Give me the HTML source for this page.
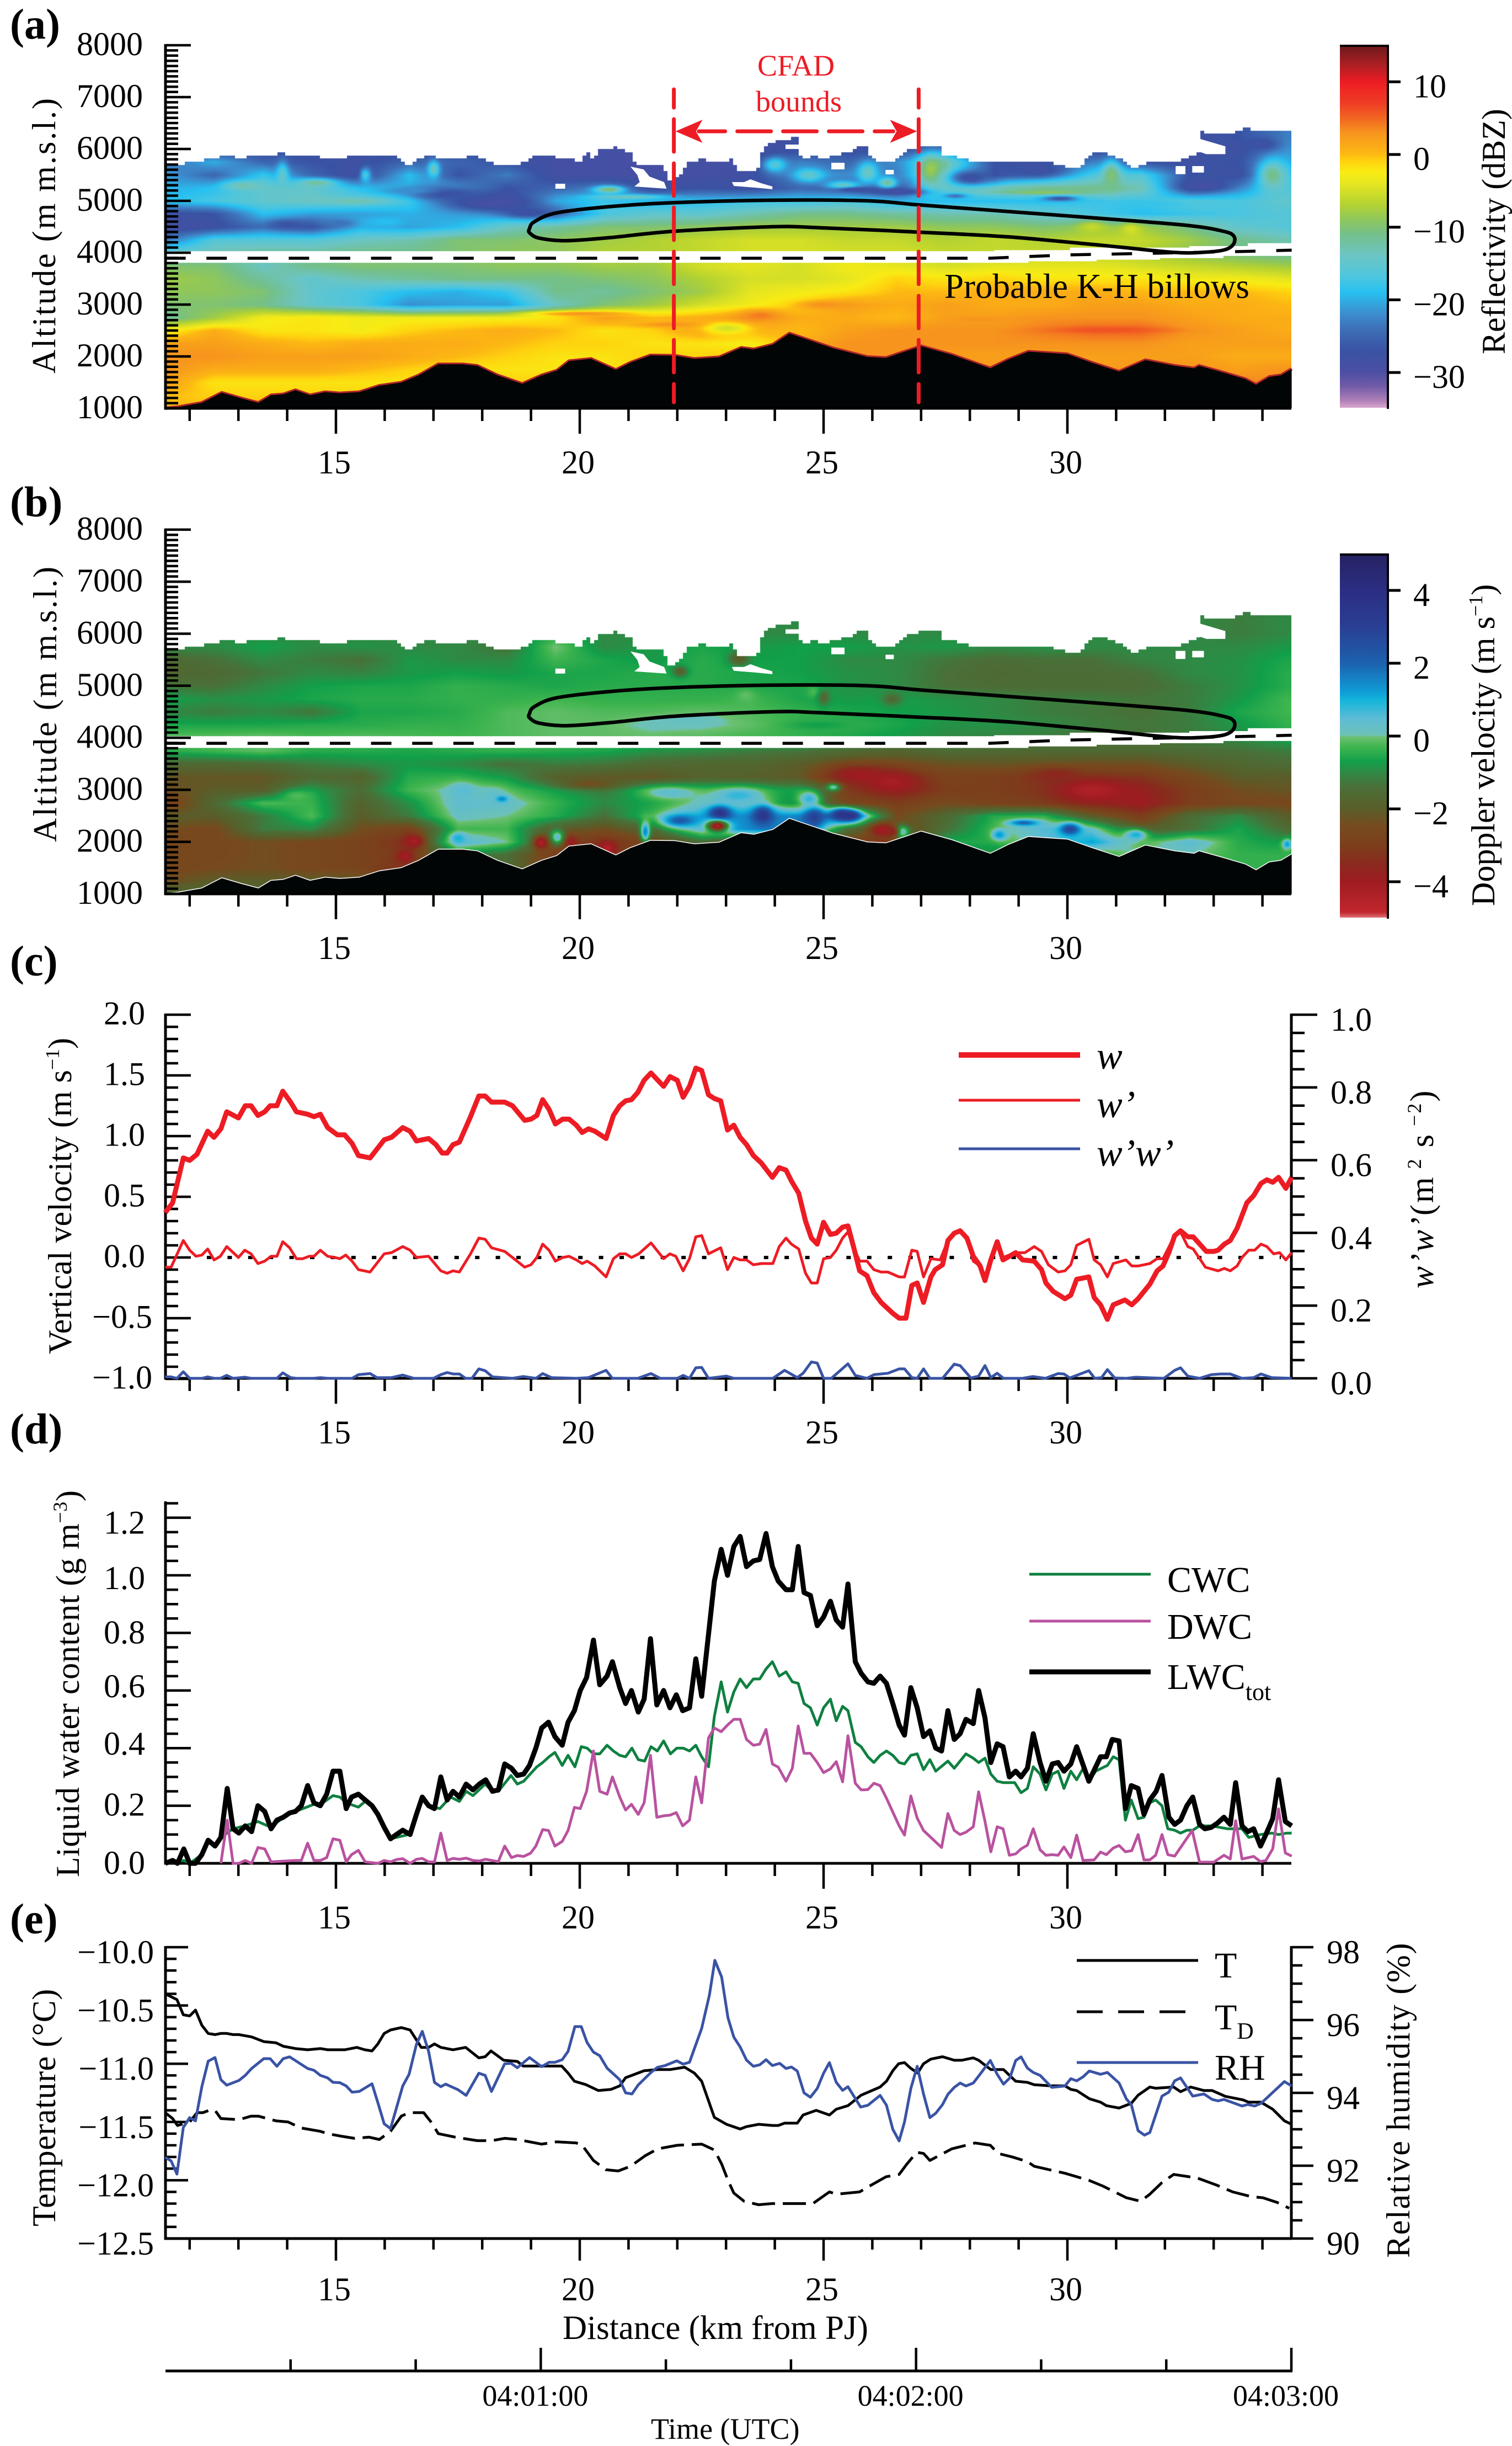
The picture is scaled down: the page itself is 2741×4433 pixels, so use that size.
<!DOCTYPE html>
<html lang="en">
<head>
<meta charset="utf-8">
<title>Airborne radar and in situ cross-section</title>
<style>
html,body{margin:0;padding:0;background:#fff;width:2741px;height:4433px;overflow:hidden}
canvas,svg{position:absolute;display:block}
text{font-family:"Liberation Serif",serif;font-size:60px;fill:#000}
.lg{font-size:66px}
.it{font-style:italic}
.pl{font-size:78px;font-weight:bold}
.red{fill:#ed1c24;font-size:54px}
</style>
</head>
<body>
<canvas id="heatA" width="2041" height="658" style="left:300px;top:82px"></canvas>
<canvas id="heatB" width="2041" height="660" style="left:300px;top:960px"></canvas>
<svg id="fig" width="2741" height="4433" viewBox="0 0 2741 4433" style="left:0;top:0">
<defs>
<linearGradient id="gradA" x1="0" y1="0" x2="0" y2="1"></linearGradient>
<linearGradient id="gradB" x1="0" y1="0" x2="0" y2="1"></linearGradient>
</defs>
<g id="underA"></g>
<g id="underB"></g>
<g id="axes"></g>
<g id="series"></g>

<text class="pl" x="18" y="70">(a)</text>
<text class="pl" x="18" y="936">(b)</text>
<text class="pl" x="18" y="1768">(c)</text>
<text class="pl" x="18" y="2616">(d)</text>
<text class="pl" x="18" y="3504">(e)</text>

<text transform="translate(100,677) rotate(-90)" letter-spacing="3">Altitude (m m.s.l.)</text>
<text transform="translate(102,1526) rotate(-90)" letter-spacing="3">Altitude (m m.s.l.)</text>
<text transform="translate(129,2454) rotate(-90)">Vertical velocity (m s<tspan dy="-22" font-size="36">−1</tspan><tspan dy="22">)</tspan></text>
<text transform="translate(143,3402) rotate(-90)" letter-spacing="0.6">Liquid water content (g m<tspan dy="-22" font-size="36">−3</tspan><tspan dy="22">)</tspan></text>
<text transform="translate(100,4035) rotate(-90)" letter-spacing="0.6">Temperature (°C)</text>
<text transform="translate(2728,642) rotate(-90)">Reflectivity (dBZ)</text>
<text transform="translate(2709,1642) rotate(-90)">Doppler velocity (m s<tspan dy="-22" font-size="36">−1</tspan><tspan dy="22">)</tspan></text>
<text transform="translate(2598,2335) rotate(-90)" letter-spacing="3"><tspan class="it">w’w’</tspan>(m<tspan dy="-22" font-size="36"> 2</tspan><tspan dy="22"> s</tspan><tspan dy="-22" font-size="36"> −2</tspan><tspan dy="22">)</tspan></text>
<text transform="translate(2555,4092) rotate(-90)" letter-spacing="1.7">Relative humidity (%)</text>

<text class="red" x="1443" y="137" text-anchor="middle">CFAD</text>
<text class="red" x="1448" y="202" text-anchor="middle">bounds</text>
<text x="1712" y="540" style="font-size:63px">Probable K-H billows</text>

<g>
<line x1="1738" y1="1912" x2="1958" y2="1912" stroke="#ed1c24" stroke-width="10"/>
<line x1="1738" y1="1994" x2="1958" y2="1994" stroke="#ed1c24" stroke-width="5"/>
<line x1="1738" y1="2082" x2="1958" y2="2082" stroke="#3953a4" stroke-width="5"/>
<text class="lg it" x="1988" y="1937" style="font-size:70px">w</text>
<text class="lg it" x="1988" y="2025" style="font-size:70px">w’</text>
<text class="lg it" x="1988" y="2113" style="font-size:70px">w’w’</text>
</g>
<g>
<line x1="1866" y1="2853" x2="2086" y2="2853" stroke="#0f8040" stroke-width="5"/>
<line x1="1866" y1="2938" x2="2086" y2="2938" stroke="#b9529f" stroke-width="5"/>
<line x1="1866" y1="3030" x2="2086" y2="3030" stroke="#000" stroke-width="9"/>
<text class="lg" x="2116" y="2885">CWC</text>
<text class="lg" x="2116" y="2970">DWC</text>
<text class="lg" x="2116" y="3061">LWC<tspan font-size="44" dy="20">tot</tspan></text>
</g>
<g>
<line x1="1952" y1="3553" x2="2172" y2="3553" stroke="#000" stroke-width="5"/>
<line x1="1952" y1="3646" x2="2172" y2="3646" stroke="#000" stroke-width="5" stroke-dasharray="47 28"/>
<line x1="1952" y1="3738" x2="2172" y2="3738" stroke="#3953a4" stroke-width="5"/>
<text class="lg" x="2202" y="3584">T</text>
<text class="lg" x="2202" y="3678">T<tspan font-size="42" dy="17">D</tspan></text>
<text class="lg" x="2202" y="3769">RH</text>
</g>
<text x="1020" y="4239" style="font-size:61px">Distance (km from PJ)</text>
<text x="1180" y="4420" style="font-size:54px">Time (UTC)</text>
</svg>

<script>
/* ---------- category / tick arrays ---------- */
const distanceMajorTicks=[15,20,25,30];
const distanceMinorTicks=[12,13,14,16,17,18,19,21,22,23,24,26,27,28,29,31,32,33,34];
const altitudeTicks=[8000,7000,6000,5000,4000,3000,2000,1000];
const reflectivityTicks=[10,0,-10,-20,-30];
const dopplerTicks=[4,2,0,-2,-4];
const velocityTicks=[2,1.5,1,0.5,0,-0.5,-1];
const varianceTicks=[1,0.8,0.6,0.4,0.2,0];
const lwcTicks=[1.2,1,0.8,0.6,0.4,0.2,0];
const temperatureTicks=[-10,-10.5,-11,-11.5,-12,-12.5];
const humidityTicks=[98,96,94,92,90];
const timeMajorSeconds=[60,120,180];
const timeMinorSeconds=[20,40,80,100,140,160];
const timeLabels=["04:01:00","04:02:00","04:03:00"];
const cfadBounds=[21.93,26.95];

/* ---------- colour scales [value, colour] ---------- */
const reflectivityStops=[[-35,"#d9a6cc"],[-34,"#b07fb8"],[-32,"#6f5aa6"],[-30,"#4a4fa3"],[-27,"#3a53a4"],[-24,"#3d71b8"],[-22,"#3c8ecf"],[-19,"#27c1f1"],[-17,"#4cc6e0"],[-14,"#6cc5c4"],[-11,"#74c08a"],[-9,"#8fc75c"],[-7,"#b3d233"],[-4,"#e6e621"],[-2.5,"#f9ec14"],[-1,"#ffd40f"],[0,"#fdb913"],[3,"#f7941e"],[5,"#f26522"],[7,"#ef3e24"],[10,"#ed1c24"],[12,"#b51f24"],[15,"#6d1a1c"]];
const dopplerStops=[[-5,"#e07078"],[-4.85,"#c1272d"],[-4,"#9e1c20"],[-3.5,"#8a2a1e"],[-3,"#7c3f1c"],[-2.5,"#774a1e"],[-2,"#5a5e2a"],[-1.4,"#4a7038"],[-1,"#2f8a45"],[-0.7,"#12a04a"],[-0.3,"#3fb54f"],[-0.03,"#6cc070"],[0.03,"#6dc2b8"],[0.5,"#5bbcd6"],[1,"#12b5da"],[1.2,"#0f9ed8"],[2,"#1c62ae"],[3,"#2a3f94"],[4,"#2b2e83"],[5,"#262262"]];

/* ---------- radar grid ---------- */
const gridKm=[11.5,12.5,13.5,14.5,15.5,16.5,17.5,18.5,19.5,20.5,21.5,22.5,23.5,24.5,25.5,26.5,27.5,28.5,29.5,30.5,31.5,32.5,33.5,34.5];
const gridAltitude=[6250,6000,5750,5500,5250,5000,4750,4500,4250,4000,3750,3500,3250,3000,2750,2500,2250,2000,1750,1500,1250,1000];
const reflectivityRows=[
[-28,-28,-28,-28,-28,-28,-28,-28,-28,-28,-28,-28,-28,-28,-28,-28,-28,-28,-28,-28,-28,-28,-27,-23],
[-28,-28,-28,-28,-28,-28,-28,-28,-28,-29,-29,-29,-29,-28,-28,-28,-24,-28,-28,-28,-28,-28,-28,-22],
[-24,-20,-25,-27,-28,-25,-25,-27,-29,-29,-30,-29,-29,-23,-25,-22,-13,-27,-28,-23,-27,-28,-27,-21],
[-21,-25,-18,-25,-29,-19,-27,-23,-29,-29,-29,-29,-28,-22,-22,-23,-12,-27,-24,-17,-16,-27,-28,-19],
[-20,-19,-15,-15,-19,-20,-21,-27,-25,-23,-28,-27,-28,-25,-27,-27,-14,-13,-11,-11,-13,-27,-22,-17],
[-19,-17,-15,-14,-15,-17,-25,-29,-20,-18,-20,-19,-18,-18,-17,-20,-19,-19,-19,-18,-18,-16,-17,-15],
[-28,-27,-19,-21,-21,-20,-21,-22,-25,-17,-15,-15,-13,-11,-11,-12,-13,-13,-15,-17,-19,-18,-17,-16],
[-29,-28,-24,-27,-20,-21,-19,-14,-12,-10,-10,-9,-8,-8,-8,-8,-9,-9,-10,-9,-8,-11,-15,-16],
[-24,-16,-16,-16,-14,-13,-10,-10,-9,-8,-7,-6,-5,-5,-6,-6,-7,-6,-7,-6,-6,-8,-11,-13],
[-15,-13,-12,-12,-11,-11,-10,-9,-9,-7,-7,-6,-5,-5,-5,-5,-6,-6,-6,-6,-7,-9,-11,-12],
[-10,-10,-14,-11,-10,-10,-10,-9,-9,-8,-8,-5,-4,-5,-3,-4,-5,-4,-4,-4,-5,-6,-7,-8],
[-8,-9,-12,-15,-13,-12,-11,-11,-11,-10,-9,-7,-5,-5,-4,-1,-2,-1,-2,-2,-2,-3,-3,-4],
[-9,-9,-10,-15,-17,-19,-20,-18,-11,-12,-10,-8,-4,-3,-2,0,0,1,1,1,0,0,0,-1],
[-10,-10,-11,-15,-17,-22,-21,-21,-14,-10,-8,-5,-3,-1,2,1,2,1,1,2,2,1,1,0],
[-12,-8,-3,-2,-3,-3,-3,-3,-2,2,0,1,3,1,1,0,2,2,3,3,3,2,1,1],
[-3,1,-2,-2,-3,-1,0,1,0,-2,-1,2,1,0,2,3,3,3,4,5,5,3,2,1],
[2,2,1,0,1,1,1,0,-1,-1,-2,-2,-3,1,3,3,3,3,3,3,3,2,2,2],
[3,3,2,2,2,1,0,-1,-2,-2,-1,-1,0,1,3,3,2,2,2,2,2,2,1,1],
[3,1,1,1,0,-1,-2,-2,-2,-2,-1,-1,-1,1,3,3,3,3,2,2,3,3,2,3],
[2,-2,-2,-2,-2,-2,-1,-1,-1,-1,-1,-1,-1,1,3,3,3,3,3,3,3,3,4,3],
[0,-1,-1,-1,-1,-1,-1,-1,-1,-1,-1,-1,-1,0,2,2,2,2,2,2,2,2,3,3],
[0,0,0,0,0,0,0,0,0,0,0,0,0,0,0,0,0,0,0,0,0,0,0,0]];
const dopplerRows=[
[-1,-1,-1,-1,-1,-1,-1,-1,-1,-1,-1,-1,-1,-1,-1,-1,-1,-1,-1,-1,-1,-1,-1.2,-1],
[-1,-1,-1,-1,-1,-1,-1,-1,-0.6,-1,-1,-1,-1,-1,-1,-1,-1,-1,-1,-1,-1,-1,-1.2,-1],
[-1,-1,-0.7,-1,-0.9,-1,-1,-1.4,0,-1,-0.8,-0.6,-0.8,-0.7,-0.7,-0.9,-0.8,-1,-0.9,-1,-1,-1,-1,-0.8],
[-1.6,-1.4,-1,-1.2,-1.4,-0.8,-1,-1,-0.3,-0.6,-0.8,-0.5,-0.7,-0.7,-1,-1,-1.3,-1.5,-1.4,-1.4,-1.1,-1,-0.9,-0.6],
[-1.7,-1.6,-1.3,-1,-1.1,-0.8,-0.7,-0.8,-0.6,-0.6,-0.5,-0.5,-0.6,-0.7,-0.9,-1,-1.4,-1.6,-1.5,-1.5,-1.4,-1,-0.9,-0.5],
[-1.3,-1.4,-1,-0.7,-0.6,-0.6,-0.4,-0.5,-0.6,-0.5,-0.5,-0.5,-0.6,-0.6,-0.9,-1,-1.4,-1.5,-1.5,-1.5,-1.5,-1.2,-0.9,-0.5],
[-0.7,-0.9,-0.8,-0.6,-0.5,-0.5,-0.4,-0.4,-0.3,-0.4,-0.4,-0.4,-0.3,-0.6,-0.8,-0.7,-0.9,-1,-1.2,-1.2,-1.3,-1.2,-0.8,-0.3],
[-1,-1.2,-1,-1.3,-0.6,-0.6,-0.5,-0.2,-0.1,-0.2,-0.2,-0.1,-0.2,-0.4,-0.6,-0.7,-0.8,-1,-1.2,-1.3,-1.4,-1.2,-0.6,-0.3],
[-0.6,-0.6,-0.6,-0.5,-0.5,-0.4,-0.4,-0.2,-0.1,-0.1,0.1,0.1,-0.1,-0.4,-0.4,-0.6,-0.9,-0.9,-1,-1.2,-1.3,-1.2,-0.8,-0.4],
[-0.1,-0.1,0,-0.2,-0.1,-0.2,-0.3,-0.2,-0.1,-0.1,-0.1,-0.2,-0.3,-0.4,-0.6,-0.8,-1,-1.1,-1.2,-1.4,-1.4,-1.2,-1,-0.6],
[-0.5,-0.3,-0.1,-0.5,-0.5,-0.6,-0.5,-0.4,-0.5,-0.6,-0.9,-1,-1.2,-1.3,-1.6,-1.8,-1.5,-1.6,-1.6,-1.6,-1.6,-1.5,-1.4,-1.2],
[-1.6,-1.6,-1.5,-1.2,-1,-0.8,-1,-1.4,-1.2,-1.3,-1.6,-1.7,-1.7,-2,-2.5,-2.5,-2.3,-2.2,-2.3,-2.4,-2.4,-2,-1.7,-1.5],
[-2.2,-2.2,-2.2,-1.6,-1.8,-0.5,-0.4,-0.8,-1.9,-2.1,-2.2,-1.8,-1.9,-2.1,-3.2,-3.2,-2.8,-3,-3.2,-3,-3.2,-2.6,-2,-2],
[-2.4,-2,-2,-0.8,-1.5,-0.3,0.2,-0.2,-0.7,-1.2,-0.4,-0.4,-0.5,-0.8,-3,-3.4,-3,-3,-3.2,-3.6,-3.8,-3,-2.4,-2.2],
[-3,-1.6,-0.2,-0.4,-1.8,-0.9,0.4,0.3,-0.4,-1,-0.6,0.2,0.1,-1.2,-2.6,-3,-2.5,-2.8,-3,-3.4,-4,-3,-2.6,-2.6],
[-2,-2,-1.2,-0.2,-2,-1.2,0.2,0,-0.5,-1.4,-0.3,1,1.5,1.5,2,-2.5,-1.6,-0.5,-0.4,-2,-3,-1.5,-1,-2],
[-2.4,-2.6,-1.2,-1,-2.4,-2.8,-0.3,-0.3,-2,-2.4,-1.6,0.6,1.5,1.8,-1.5,-2.8,-1.4,-0.3,0.6,0.3,-2,-1.4,-0.6,-1.5],
[-2.6,-2.6,-2.4,-2.6,-2.8,-3.4,0.6,0,-2.6,-3.4,-2.6,-1.5,-2.6,-2.4,-2.8,-3.3,-0.6,-0.5,0.4,1.2,-0.4,0.5,-0.5,-0.8],
[-2.6,-2.6,-2.4,-2.6,-2.8,-3.2,-1,-1.5,-3,-3.4,-2.4,-1,-1,-1,-1,-1,-1,-1,-1,-0.8,0.3,0,-0.4,-0.4],
[-2.6,-2.5,-2.4,-2.6,-2.8,-3.4,-1.5,-1.5,-3,-3,-2,-1,-1,-1,-1,-1,-1,-1,-1,-1,-0.8,-0.7,-0.4,-0.4],
[-2.4,-2,-2,-2,-2,-2,-1.5,-1.5,-2,-2,-2,-1,-1,-1,-1,-1,-1,-1,-1,-1,-1,-1,-0.5,-0.5],
[-1.5,-1.5,-1.5,-1.5,-1.5,-1.5,-1.5,-1.5,-1.5,-1.5,-1.5,-1,-1,-1,-1,-1,-1,-1,-1,-1,-1,-1,-0.5,-0.5]];
/* localized features: km, altitude, km half-width, altitude half-width, value */
const reflectivityFeatures=[[17.2,5150,0.7,130,-28],[18.2,4950,0.8,130,-29],[18.9,4780,0.5,100,-28],[13.9,5500,0.12,250,-15],[13.1,5300,0.4,90,-13],[14.6,5350,0.4,80,-12],[15.4,5000,0.6,60,-13],[16.5,5200,0.6,70,-22],[17,5620,0.12,160,-14],[15.6,5500,0.12,150,-17],[14,4550,0.4,90,-27],[15.1,4580,0.3,70,-24],[16,4600,0.4,100,-19],[20.6,5223,0.3,70,-10],[21,5080,0.8,50,-14],[24,5700,0.25,150,-16],[24.7,5500,0.3,130,-15],[25.4,5300,0.35,90,-14],[25.9,5550,0.2,200,-14],[26.3,5350,0.2,110,-12],[26.5,5180,0.6,60,-29],[25.6,5220,0.4,50,-28],[27.2,5600,0.25,300,-8],[27.7,5100,0.25,50,-24],[29.85,5050,0.35,50,-27],[28,5450,0.45,150,-28],[29.4,5600,0.5,120,-28],[30.9,5500,0.2,280,-10],[29.5,5170,1,40,-9],[32.8,5300,0.5,120,-29],[31.8,4950,0.7,50,-18],[34.2,5500,0.3,300,-11],[34,6100,0.3,120,-28],[30.5,4500,0.3,120,-6],[31.3,4450,0.2,130,-5],[23,2550,0.5,120,-5],[23.7,2800,0.4,100,4],[25,3000,0.5,80,3],[20,2830,1,50,3],[21.8,2620,0.6,50,3],[30.8,2520,1,60,6],[28.2,2720,0.5,50,3]];
const dopplerFeatures=[[22.87,2555,0.22,130,3.6],[23.75,2520,0.2,170,3.5],[24.8,2480,0.2,200,3],[25.35,2530,0.2,110,3.6],[25.55,2510,0.2,100,3.6],[22.05,2414,0.35,120,2.2],[22.82,2310,0.2,100,-4.5],[20.57,1883,0.15,120,-4.5],[19.8,2007,0.15,120,-4],[21.34,2200,0.1,200,1.5],[19.53,2095,0.15,150,0.5],[26.55,2200,0.2,130,1.6],[26.2,2236,0.25,130,-4.2],[21.85,2950,0.5,120,0.4],[23.25,2900,0.5,150,0.8],[24.7,2830,0.25,170,0.8],[25.2,3060,0.15,80,0.6],[25.7,3300,0.6,170,-4],[26.4,3150,0.6,220,-4.2],[30.5,3000,0.7,230,-4.4],[29.76,3300,0.5,130,-3.6],[22.16,4358,0.7,80,0.2],[24.9,4250,0.6,80,-0.7],[24.8,4888,0.15,120,-0.2],[23.4,4818,0.2,120,-0.1],[25,4780,0.12,150,-1.6],[26.4,4750,0.2,120,-1.6],[23.26,5525,0.2,130,-2],[22.05,5277,0.15,100,-1.9],[29.1,2370,0.3,60,2],[30.05,2250,0.2,110,2.8],[28.6,2140,0.15,100,1.3],[31.4,2140,0.25,120,1],[34.5,1960,0.1,100,1.2],[26.4,2200,0.15,120,-3.8],[14.2,2890,0.35,130,-0.2],[17.5,2080,0.15,90,1],[18.2,2890,0.3,170,0.3],[18.4,2830,0.12,60,1.5],[17.6,3000,0.25,130,0.5],[19.2,1990,0.15,130,-4.4],[16.4,1730,0.15,100,-4.2],[16.6,2020,0.2,130,-4.2],[20.2,3120,0.6,100,-2.4]];

/* ---------- cloud and terrain boundaries: [km, altitude] ---------- */
const cloudTop=[[11.5,5710],[11.77,5710],[12.15,5770],[12.7,5870],[13,5840],[13.57,5880],[13.87,5920],[14.17,5880],[14.98,5830],[15.5,5880],[16.2,5880],[16.4,5690],[16.7,5810],[16.8,5880],[17.4,5790],[17.8,5890],[18.2,5730],[18.7,5720],[19.1,5880],[19.42,5894],[19.53,5820],[20,5780],[20.1,5990],[20.25,5800],[20.4,6021],[20.7,6032],[21,5947],[21.05,5820],[21.15,5713],[21.62,5713],[21.72,5606],[21.75,5415],[21.93,5415],[22.1,5628],[22.2,5755],[22.5,5820],[22.6,5755],[22.74,5755],[23.1,5798],[23.2,5606],[23.5,5553],[23.62,5649],[23.65,5894],[23.83,6085],[24,6160],[24.45,6230],[24.5,5820],[24.8,5861],[25.05,5820],[25.2,5894],[25.45,5926],[25.65,6032],[25.9,6032],[25.92,5840],[26.1,5755],[26.4,5755],[26.7,5968],[27.1,6085],[27.35,6032],[27.4,5872],[27.7,5861],[28.1,5730],[29,5730],[29.66,5730],[30.2,5610],[30.5,5970],[30.9,5880],[31.35,5640],[31.7,5760],[32.3,5790],[32.68,5950],[32.7,6340],[33.3,6280],[33.6,6410],[34,6340],[34.6,6340]];
const terrainProfile=[[11.5,1000],[11.77,1026],[12.25,1105],[12.66,1301],[13.06,1191],[13.41,1105],[13.67,1252],[13.92,1270],[14.17,1350],[14.47,1252],[14.78,1313],[15.08,1289],[15.48,1313],[15.89,1435],[16.34,1496],[16.7,1637],[17.1,1850],[17.6,1850],[17.9,1820],[18.31,1637],[18.82,1472],[19.22,1637],[19.53,1728],[19.78,1911],[20.23,1954],[20.74,1740],[21.04,1881],[21.45,2021],[21.95,2015],[22.35,1954],[22.86,1985],[23.31,2168],[23.57,2137],[23.96,2230],[24.3,2443],[25.2,2156],[25.9,1990],[26.28,1972],[26.57,2064],[27,2198],[27.63,2033],[28,1911],[28.42,1771],[28.79,1942],[29.2,2094],[30,2045],[30.5,1881],[31.06,1710],[31.6,1930],[32.2,1820],[32.6,1771],[32.7,1820],[33.17,1698],[33.65,1564],[33.87,1454],[34.14,1606],[34.38,1637],[34.6,1759]];
const cloudHoles=[
[[19.5,5330],[19.7,5330],[19.7,5234],[19.5,5234]],
[[21.04,5660],[21.31,5606],[21.43,5468],[21.73,5362],[21.78,5234],[21.12,5277],[21.23,5362],[21.18,5500]],
[[23.12,5362],[23.37,5362],[23.5,5415],[23.72,5340],[23.95,5277],[23.95,5223],[23.59,5255],[23.16,5287]],
[[24.22,6085],[24.53,6085],[24.53,6000],[24.22,6000]],
[[25.16,5734],[25.43,5734],[25.43,5606],[25.16,5606]],
[[26.27,5596],[26.44,5596],[26.44,5511],[26.27,5511]],
[[32.22,5670],[32.42,5670],[32.42,5515],[32.22,5515]],
[[32.56,5670],[32.8,5670],[32.8,5545],[32.56,5545]],
[[32.7,6200],[33.24,6050],[33.24,5900],[32.85,5900],[32.7,5950]]];
const gapUpperKm=[11.5,28.5,30.05,32.5,33.7,34.6];
const gapUpperAltitude=[4030,4049,4098,4128,4183];
const gapLowerKm=[11.5,29.2,30.6,31.9,33.2,34.6];
const gapLowerAltitude=[3805,3835,3866,3896,3939];
const flightLevel=[[11.5,3894],[28.4,3894],[30,3957],[31.7,3988],[33.6,4024],[34.6,4049]];
const billowContour=[[18.97,4464],[19.07,4598],[19.53,4769],[20.64,4891],[21.95,4965],[23.96,5012],[25.89,5001],[26.95,4922],[28.79,4794],[30.73,4659],[32.47,4525],[33.19,4415],[33.41,4324],[33.41,4171],[33.24,4061],[32.85,4012],[32.18,4006],[30.73,4140],[28.79,4305],[26.95,4397],[24.92,4482],[23.96,4501],[21.95,4415],[20.64,4293],[19.73,4232],[19.17,4281],[18.97,4385]];

/* ---------- panel c: [km, value] ---------- */
const wSeries=[[11.5,.37],[11.65,.45],[11.87,.82],[12,.8],[12.15,.85],[12.37,1.04],[12.5,.99],[12.64,1.06],[12.76,1.2],[13,1.15],[13.14,1.25],[13.26,1.25],[13.4,1.17],[13.54,1.2],[13.65,1.25],[13.79,1.25],[13.91,1.37],[14.07,1.28],[14.19,1.2],[14.42,1.18],[14.55,1.16],[14.68,1.18],[14.83,1.07],[15.03,1.01],[15.18,1.01],[15.33,.94],[15.46,.84],[15.7,.82],[15.99,.97],[16.14,.99],[16.37,1.07],[16.52,1.04],[16.65,.96],[16.9,.98],[17.05,.93],[17.18,.86],[17.28,.86],[17.4,.93],[17.53,.95],[17.76,1.16],[17.93,1.33],[18.06,1.33],[18.19,1.28],[18.46,1.28],[18.62,1.25],[18.87,1.13],[19,1.14],[19.12,1.17],[19.24,1.3],[19.37,1.22],[19.5,1.1],[19.65,1.14],[19.78,1.14],[19.93,1.09],[20.05,1.03],[20.18,1.06],[20.31,1.04],[20.54,.98],[20.69,1.17],[20.82,1.25],[20.94,1.29],[21.06,1.3],[21.19,1.36],[21.32,1.46],[21.46,1.52],[21.72,1.41],[21.85,1.49],[22,1.46],[22.12,1.32],[22.25,1.41],[22.38,1.56],[22.5,1.54],[22.64,1.34],[22.76,1.31],[22.89,1.29],[23.03,1.05],[23.16,1.09],[23.29,.99],[23.42,.93],[23.56,.84],[23.72,.78],[23.95,.66],[24.09,.74],[24.23,.72],[24.34,.63],[24.49,.53],[24.63,.3],[24.75,.16],[24.87,.11],[25,.29],[25.14,.19],[25.26,.2],[25.39,.25],[25.5,.26],[25.62,.08],[25.74,-.11],[25.89,-.15],[26.03,-.29],[26.18,-.37],[26.42,-.46],[26.55,-.5],[26.69,-.5],[26.81,-.23],[26.92,-.21],[27.05,-.37],[27.2,-.16],[27.29,-.1],[27.44,-.06],[27.55,.14],[27.68,.2],[27.8,.22],[27.94,.16],[28.07,.01],[28.21,-.07],[28.31,-.19],[28.43,-.02],[28.56,.13],[28.68,-.02],[28.94,.04],[29.08,-.02],[29.32,-.03],[29.47,-.1],[29.56,-.21],[29.71,-.28],[29.95,-.34],[30.07,-.31],[30.19,-.18],[30.44,-.16],[30.55,-.33],[30.68,-.39],[30.82,-.51],[30.94,-.39],[31.18,-.35],[31.32,-.39],[31.45,-.34],[31.69,-.22],[31.84,-.11],[31.96,-.07],[32.08,.04],[32.2,.18],[32.32,.22],[32.47,.17],[32.58,.17],[32.85,.05],[33,.05],[33.09,.06],[33.22,.11],[33.34,.14],[33.48,.24],[33.68,.45],[33.82,.51],[33.97,.61],[34.09,.64],[34.21,.62],[34.33,.66],[34.48,.57],[34.6,.66]];
const wPrimeSeries=[[11.5,-.08],[11.62,-.08],[11.87,.14],[12,.06],[12.13,.01],[12.25,.02],[12.37,.07],[12.5,-.02],[12.63,.01],[12.76,.09],[13,0],[13.13,.06],[13.26,.03],[13.4,-.05],[13.54,-.03],[13.67,.01],[13.79,.01],[13.91,.13],[14.05,.08],[14.19,-.01],[14.32,-.01],[14.45,.01],[14.55,.01],[14.68,.06],[14.83,.01],[14.98,0],[15.08,-.01],[15.2,.02],[15.33,-.03],[15.46,-.1],[15.7,-.12],[15.99,.03],[16.14,.04],[16.37,.09],[16.52,.06],[16.65,0],[16.9,.01],[17.15,-.11],[17.28,-.13],[17.4,-.11],[17.53,-.12],[17.76,.03],[17.93,.16],[18.06,.15],[18.19,.08],[18.46,.05],[18.62,0],[18.87,-.08],[19,-.06],[19.12,0],[19.24,.11],[19.37,.06],[19.5,-.03],[19.65,0],[19.78,.01],[19.93,-.02],[20.05,-.05],[20.15,-.03],[20.31,-.07],[20.54,-.16],[20.69,-.01],[20.82,.03],[20.94,.03],[21.06,0],[21.21,.03],[21.46,.12],[21.72,-.01],[21.85,.03],[21.97,.01],[22.12,-.11],[22.25,-.01],[22.38,.17],[22.5,.18],[22.64,.03],[22.89,.08],[23.03,-.1],[23.16,0],[23.29,-.02],[23.42,-.02],[23.56,-.06],[23.72,-.05],[23.96,-.05],[24.09,.09],[24.23,.16],[24.34,.11],[24.49,.07],[24.63,-.13],[24.75,-.21],[24.87,-.21],[25,-.01],[25.14,0],[25.26,.06],[25.39,.16],[25.5,.21],[25.62,.08],[25.74,-.03],[25.89,-.03],[26.03,-.1],[26.18,-.12],[26.32,-.12],[26.55,-.16],[26.66,-.16],[26.81,.06],[26.92,.05],[27.05,-.16],[27.2,-.01],[27.39,-.02],[27.55,.14],[27.68,.2],[27.8,.22],[27.94,.16],[28.07,-.03],[28.21,-.07],[28.31,-.19],[28.43,-.02],[28.56,.13],[28.68,0],[28.94,.04],[29.13,.04],[29.32,.09],[29.47,.05],[29.61,-.06],[29.81,-.12],[29.95,-.11],[30.07,-.06],[30.19,.1],[30.44,.15],[30.55,-.02],[30.68,-.06],[30.82,-.16],[30.94,-.05],[31.2,-.02],[31.32,-.07],[31.45,-.07],[31.69,-.05],[31.84,-.01],[31.96,-.01],[32.2,.18],[32.32,.21],[32.47,.09],[32.58,.07],[32.83,-.08],[33.09,-.11],[33.22,-.09],[33.34,-.11],[33.48,-.07],[33.58,0],[33.72,.06],[33.84,.06],[33.97,.11],[34.09,.09],[34.23,.03],[34.35,.04],[34.48,-.02],[34.6,.04]];
const wPrimeSquaredSeries=[[11.5,.004],[11.62,.004],[11.74,0],[11.87,.018],[12,0],[12.25,0],[12.37,.004],[12.5,0],[12.63,0],[12.76,.008],[12.89,0],[13.13,.003],[13.26,0],[13.79,0],[13.91,.015],[14.07,.002],[14.19,0],[14.55,0],[14.68,.002],[14.83,0],[15.33,0],[15.46,.01],[15.7,.013],[15.84,.002],[16.14,.002],[16.37,.009],[16.6,0],[17,0],[17.15,.01],[17.28,.016],[17.4,.012],[17.53,.012],[17.66,0],[17.79,0],[17.93,.026],[18.06,.021],[18.21,.004],[18.62,0],[18.84,.005],[19.1,0],[19.24,.013],[19.42,.002],[19.93,0],[20.18,.002],[20.54,.022],[20.67,0],[21.19,0],[21.46,.013],[21.65,0],[22,0],[22.12,.008],[22.25,0],[22.38,.029],[22.5,.03],[22.64,0],[23.01,.006],[23.16,0],[23.96,0],[24.2,.022],[24.46,.002],[24.58,.014],[24.75,.045],[24.87,.042],[25,0],[25.16,0],[25.5,.04],[25.65,.008],[25.89,0],[26.03,.01],[26.32,.014],[26.55,.026],[26.66,.026],[26.81,.002],[26.92,0],[27.05,.026],[27.18,0],[27.44,0],[27.68,.039],[27.8,.035],[28.02,.001],[28.18,.006],[28.31,.035],[28.43,.002],[28.56,.014],[28.69,0],[29.08,0],[29.29,.005],[29.55,0],[29.81,.013],[29.93,.012],[30.05,.001],[30.44,.021],[30.56,0],[30.7,.002],[30.82,.024],[30.97,.001],[31.21,0],[31.4,.003],[31.98,0],[32.2,.022],[32.32,.029],[32.47,.006],[32.71,0],[32.95,.01],[33.14,.012],[33.34,.012],[33.58,0],[33.82,.002],[33.97,.012],[34.19,.002],[34.6,0]];

/* ---------- panel d: [km, value] ---------- */
const lwcSeries=[[11.5,0],[11.65,.01],[11.75,0],[11.88,.05],[12,0],[12.12,0],[12.25,.03],[12.38,.08],[12.52,.06],[12.64,.09],[12.77,.26],[12.89,.12],[13.01,.105],[13.14,.13],[13.27,.11],[13.4,.2],[13.54,.18],[13.67,.12],[13.79,.15],[13.92,.16],[14.05,.175],[14.17,.18],[14.29,.2],[14.42,.27],[14.55,.21],[14.68,.2],[14.81,.24],[14.94,.32],[15.08,.32],[15.21,.19],[15.32,.23],[15.46,.24],[15.6,.22],[15.74,.2],[15.86,.17],[15.99,.125],[16.12,.085],[16.24,.1],[16.37,.115],[16.52,.1],[16.65,.17],[16.77,.23],[16.9,.2],[17.02,.19],[17.15,.3],[17.28,.22],[17.4,.25],[17.53,.23],[17.67,.275],[17.81,.255],[17.94,.275],[18.07,.29],[18.21,.25],[18.33,.255],[18.46,.345],[18.6,.33],[18.72,.305],[18.85,.31],[18.97,.34],[19.1,.4],[19.22,.47],[19.36,.49],[19.49,.44],[19.64,.41],[19.76,.49],[19.89,.53],[20.01,.6],[20.14,.645],[20.28,.775],[20.41,.62],[20.56,.65],[20.67,.7],[20.82,.61],[20.94,.555],[21.06,.6],[21.2,.525],[21.32,.57],[21.45,.78],[21.58,.55],[21.72,.6],[21.85,.54],[21.98,.585],[22.11,.53],[22.25,.54],[22.38,.71],[22.5,.58],[22.64,.795],[22.76,.98],[22.9,1.09],[23.03,1],[23.16,1.1],[23.29,1.135],[23.42,1.03],[23.56,1.05],[23.69,1.055],[23.82,1.145],[23.95,1.03],[24.07,.98],[24.23,.95],[24.36,.95],[24.48,1.1],[24.6,.94],[24.73,.93],[24.87,.825],[25,.855],[25.14,.91],[25.26,.845],[25.39,.82],[25.5,.97],[25.65,.7],[25.77,.66],[25.91,.63],[26.03,.625],[26.16,.65],[26.29,.625],[26.42,.555],[26.55,.48],[26.66,.445],[26.79,.61],[26.92,.54],[27.05,.44],[27.18,.46],[27.3,.4],[27.42,.39],[27.55,.53],[27.68,.43],[27.8,.45],[27.92,.5],[28.07,.485],[28.18,.6],[28.31,.505],[28.43,.35],[28.56,.415],[28.68,.405],[28.81,.3],[28.94,.32],[29.05,.3],[29.18,.33],[29.3,.45],[29.44,.35],[29.56,.285],[29.69,.345],[29.81,.35],[29.93,.32],[30.07,.345],[30.19,.405],[30.44,.285],[30.68,.37],[30.8,.37],[30.92,.43],[31.06,.425],[31.19,.19],[31.31,.27],[31.45,.26],[31.57,.17],[31.69,.22],[31.82,.25],[31.94,.305],[32.08,.16],[32.2,.135],[32.32,.15],[32.45,.2],[32.57,.23],[32.71,.135],[32.82,.12],[32.95,.125],[33.08,.14],[33.21,.16],[33.34,.135],[33.45,.28],[33.58,.13],[33.7,.11],[33.82,.12],[33.96,.06],[34.07,.1],[34.21,.155],[34.33,.29],[34.47,.145],[34.6,.13]];
const cwcSeries=[[11.5,0],[11.88,.01],[12,0],[12.25,.03],[12.38,.08],[12.52,.06],[12.64,.09],[12.89,.12],[13.13,.13],[13.4,.145],[13.67,.125],[13.92,.16],[14.17,.18],[14.55,.205],[14.73,.21],[14.94,.235],[15.08,.23],[15.21,.21],[15.46,.195],[15.6,.215],[15.74,.2],[15.86,.17],[15.99,.125],[16.12,.085],[16.49,.1],[16.65,.17],[16.77,.23],[16.9,.2],[17.13,.19],[17.35,.23],[17.53,.215],[17.67,.25],[17.81,.235],[18.06,.275],[18.21,.25],[18.33,.25],[18.59,.305],[18.72,.275],[18.85,.285],[19.12,.335],[19.24,.35],[19.37,.37],[19.49,.385],[19.64,.34],[19.76,.375],[19.9,.335],[20.03,.405],[20.15,.4],[20.28,.38],[20.41,.38],[20.56,.41],[20.69,.39],[20.82,.375],[20.94,.37],[21.07,.4],[21.2,.36],[21.33,.355],[21.46,.405],[21.59,.39],[21.72,.425],[21.86,.38],[21.99,.4],[22.12,.4],[22.25,.39],[22.38,.41],[22.5,.37],[22.64,.335],[22.76,.51],[22.9,.63],[23.03,.525],[23.16,.595],[23.29,.64],[23.42,.61],[23.56,.64],[23.69,.64],[23.82,.675],[23.95,.7],[24.09,.65],[24.23,.665],[24.36,.63],[24.48,.625],[24.6,.555],[24.73,.54],[24.87,.48],[25,.54],[25.14,.57],[25.26,.495],[25.39,.545],[25.5,.53],[25.65,.42],[25.77,.405],[25.91,.37],[26.03,.35],[26.16,.375],[26.29,.39],[26.42,.375],[26.55,.35],[26.66,.345],[26.79,.375],[26.92,.38],[27.05,.325],[27.18,.36],[27.3,.32],[27.55,.355],[27.68,.33],[27.92,.38],[28.07,.365],[28.18,.35],[28.31,.365],[28.43,.31],[28.56,.285],[28.69,.28],[28.92,.28],[29.05,.245],[29.18,.26],[29.3,.335],[29.44,.31],[29.56,.255],[29.69,.31],[29.81,.32],[29.93,.26],[30.07,.32],[30.19,.29],[30.34,.335],[30.44,.285],[30.58,.32],[30.82,.34],[30.94,.37],[31.06,.36],[31.19,.15],[31.31,.22],[31.45,.155],[31.57,.16],[31.69,.21],[31.81,.22],[31.94,.2],[32.06,.12],[32.2,.115],[32.32,.105],[32.45,.115],[32.57,.115],[32.71,.13],[32.95,.13],[33.29,.12],[33.58,.12],[33.72,.09],[33.96,.1],[34.19,.105],[34.33,.1],[34.5,.105],[34.6,.105]];
const dwcSeries=[[12.64,0],[12.77,.15],[12.89,0],[13.01,0],[13.14,.01],[13.27,0],[13.4,.055],[13.54,.05],[13.67,.005],[14.17,.01],[14.29,.01],[14.42,.07],[14.55,.01],[14.68,.01],[14.81,.02],[14.94,.085],[15.08,.08],[15.21,.005],[15.32,.03],[15.46,.045],[15.6,.005],[15.86,0],[15.99,.01],[16.12,.005],[16.24,.013],[16.37,.016],[16.52,0],[16.65,.014],[16.77,.017],[16.9,.005],[17.02,.005],[17.15,.105],[17.28,.01],[17.4,.017],[17.53,.014],[17.67,.018],[17.81,.01],[17.94,.008],[18.07,.014],[18.33,.006],[18.46,.06],[18.6,.02],[18.72,.027],[18.85,.024],[18.99,.035],[19.1,.06],[19.24,.117],[19.36,.114],[19.49,.06],[19.64,.076],[19.76,.114],[19.89,.194],[20.01,.19],[20.14,.25],[20.28,.39],[20.41,.25],[20.56,.24],[20.67,.3],[20.82,.23],[20.94,.185],[21.06,.205],[21.2,.17],[21.32,.21],[21.45,.375],[21.58,.16],[21.72,.165],[21.85,.167],[21.98,.176],[22.11,.13],[22.25,.15],[22.38,.3],[22.5,.21],[22.64,.435],[22.76,.47],[22.9,.457],[23.03,.48],[23.16,.5],[23.29,.5],[23.42,.43],[23.56,.41],[23.69,.414],[23.82,.465],[23.95,.345],[24.07,.334],[24.23,.285],[24.36,.33],[24.48,.477],[24.6,.382],[24.73,.382],[24.87,.35],[25,.315],[25.14,.328],[25.26,.353],[25.39,.283],[25.5,.443],[25.65,.278],[25.77,.255],[25.91,.256],[26.03,.278],[26.16,.27],[26.29,.226],[26.42,.178],[26.55,.13],[26.66,.098],[26.79,.234],[26.92,.157],[27.05,.114],[27.42,.055],[27.55,.173],[27.68,.114],[27.8,.1],[27.92,.108],[28.07,.127],[28.18,.248],[28.31,.146],[28.43,.04],[28.56,.127],[28.68,.12],[28.81,.028],[28.94,.033],[29.05,.05],[29.18,.063],[29.3,.12],[29.44,.047],[29.56,.028],[29.69,.03],[29.81,.028],[29.93,.057],[30.07,.02],[30.19,.098],[30.32,.01],[30.55,.012],[30.68,.039],[30.8,.03],[30.94,.053],[31.06,.062],[31.19,.04],[31.32,.044],[31.45,.1],[31.57,.012],[31.69,.012],[31.81,.028],[31.94,.1],[32.06,.03],[32.2,.025],[32.56,.114],[32.71,.004],[33,.004],[33.21,.028],[33.34,.015],[33.45,.148],[33.58,.015],[33.82,.024],[33.96,.006],[34.07,.01],[34.21,.05],[34.33,.189],[34.47,.036],[34.6,.025]];

/* ---------- panel e: [km, value] ---------- */
const temperatureSeries=[[11.5,-10.4],[11.74,-10.45],[11.87,-10.58],[12,-10.59],[12.12,-10.54],[12.25,-10.67],[12.38,-10.74],[12.52,-10.75],[12.64,-10.74],[12.76,-10.74],[12.89,-10.75],[13.01,-10.75],[13.27,-10.77],[13.52,-10.81],[13.77,-10.82],[13.92,-10.85],[14.17,-10.87],[14.42,-10.88],[14.68,-10.87],[14.83,-10.88],[15.18,-10.88],[15.43,-10.86],[15.59,-10.88],[15.74,-10.89],[15.86,-10.83],[15.99,-10.74],[16.12,-10.71],[16.34,-10.69],[16.52,-10.71],[16.75,-10.86],[16.9,-10.86],[17.02,-10.83],[17.15,-10.86],[17.4,-10.88],[17.66,-10.86],[17.93,-10.95],[18.06,-10.94],[18.18,-10.89],[18.44,-10.97],[18.72,-10.98],[18.84,-11.02],[19.22,-11.02],[19.47,-11.02],[19.63,-11.02],[19.76,-11.08],[19.89,-11.15],[20.13,-11.18],[20.38,-11.23],[20.64,-11.22],[20.82,-11.19],[20.94,-11.12],[21.32,-11.06],[21.6,-11.05],[21.85,-11.05],[22.15,-11.03],[22.35,-11.08],[22.5,-11.15],[22.76,-11.46],[23.01,-11.52],[23.29,-11.56],[23.42,-11.54],[23.67,-11.52],[23.95,-11.53],[24.07,-11.53],[24.2,-11.51],[24.46,-11.51],[24.58,-11.44],[24.85,-11.4],[25.12,-11.44],[25.26,-11.39],[25.5,-11.36],[25.77,-11.27],[26.16,-11.2],[26.29,-11.15],[26.42,-11.06],[26.54,-11],[26.66,-10.99],[26.79,-11.04],[26.93,-11.08],[27.05,-11],[27.2,-10.96],[27.44,-10.94],[27.68,-10.97],[27.83,-10.97],[28.07,-10.95],[28.18,-10.97],[28.43,-11.05],[28.69,-11.05],[28.94,-11.15],[29.18,-11.16],[29.32,-11.18],[29.66,-11.19],[29.95,-11.19],[30.07,-11.22],[30.19,-11.23],[30.45,-11.3],[30.68,-11.33],[30.8,-11.36],[31.06,-11.38],[31.31,-11.34],[31.45,-11.27],[31.69,-11.2],[31.81,-11.21],[32.18,-11.2],[32.32,-11.24],[32.53,-11.2],[32.8,-11.23],[32.97,-11.23],[33.24,-11.28],[33.6,-11.31],[33.72,-11.33],[33.97,-11.33],[34.21,-11.39],[34.45,-11.49],[34.6,-11.52]];
const dewPointSeries=[[11.5,-11.42],[11.65,-11.47],[11.75,-11.53],[12,-11.5],[12.15,-11.42],[12.27,-11.42],[12.4,-11.4],[12.52,-11.4],[12.64,-11.47],[13.01,-11.48],[13.26,-11.45],[13.41,-11.45],[13.77,-11.49],[14.02,-11.5],[14.27,-11.55],[14.68,-11.58],[14.83,-11.6],[15.08,-11.62],[15.38,-11.64],[15.68,-11.63],[15.89,-11.65],[16.12,-11.58],[16.34,-11.45],[16.5,-11.42],[16.8,-11.42],[16.95,-11.5],[17.1,-11.6],[17.45,-11.63],[17.9,-11.66],[18.2,-11.66],[18.46,-11.64],[18.72,-11.65],[19.22,-11.69],[19.53,-11.67],[19.93,-11.68],[20.05,-11.7],[20.28,-11.83],[20.54,-11.91],[20.79,-11.92],[21.04,-11.88],[21.34,-11.79],[21.6,-11.73],[22,-11.7],[22.5,-11.69],[22.76,-11.74],[22.91,-11.86],[23.04,-12],[23.16,-12.11],[23.37,-12.18],[23.67,-12.21],[23.95,-12.2],[24.44,-12.2],[24.78,-12.2],[25.12,-12.1],[25.26,-12.12],[25.74,-12.1],[25.94,-12.05],[26.28,-11.97],[26.55,-11.95],[26.71,-11.86],[26.91,-11.76],[27.05,-11.77],[27.18,-11.83],[27.63,-11.73],[27.92,-11.7],[28.11,-11.68],[28.42,-11.7],[28.58,-11.77],[28.87,-11.8],[29.18,-11.84],[29.32,-11.88],[29.95,-11.94],[30.44,-12],[30.73,-12.05],[31.21,-12.15],[31.5,-12.18],[31.69,-12.12],[31.94,-12.02],[32.18,-11.95],[32.66,-11.98],[33.05,-12.04],[33.39,-12.1],[33.77,-12.14],[34.01,-12.15],[34.3,-12.19],[34.55,-12.24]];
const humiditySeries=[[11.5,92.23],[11.62,92.13],[11.74,91.77],[11.87,93.05],[12,93.32],[12.12,93.23],[12.25,94.17],[12.38,94.87],[12.52,94.97],[12.64,94.36],[12.76,94.21],[13.01,94.34],[13.14,94.48],[13.27,94.67],[13.52,94.94],[13.65,94.94],[13.79,94.73],[13.92,94.94],[14.05,94.99],[14.42,94.67],[14.55,94.62],[14.68,94.48],[14.83,94.41],[14.94,94.29],[15.08,94.28],[15.21,94.19],[15.33,94.02],[15.48,94.04],[15.74,94.25],[15.86,93.73],[15.99,93.15],[16.12,93.02],[16.37,94.19],[16.5,94.51],[16.65,95.33],[16.77,95.69],[16.9,95.14],[17.02,94.29],[17.15,94.17],[17.25,94.24],[17.5,94.09],[17.67,93.93],[17.93,94.54],[18.06,94.48],[18.19,94.04],[18.46,94.8],[18.59,94.81],[18.72,94.69],[18.97,94.97],[19.22,94.72],[19.37,94.84],[19.49,94.84],[19.64,94.91],[19.76,95.14],[19.9,95.82],[20.03,95.82],[20.15,95.38],[20.28,95.12],[20.41,95.02],[20.56,94.68],[20.82,94.36],[20.94,94],[21.07,93.97],[21.2,94.22],[21.46,94.56],[21.59,94.7],[21.75,94.75],[21.99,94.88],[22.12,94.79],[22.25,94.84],[22.5,95.77],[22.66,96.69],[22.77,97.64],[22.91,97.18],[23.04,96.06],[23.16,95.53],[23.29,95.26],[23.42,94.9],[23.56,94.73],[23.69,94.77],[23.82,94.91],[23.95,94.75],[24.1,94.81],[24.23,94.67],[24.34,94.71],[24.46,94.6],[24.6,94],[24.73,93.88],[24.87,94.12],[25,94.54],[25.12,94.83],[25.26,94.29],[25.39,94.07],[25.5,94.17],[25.76,93.61],[25.91,93.66],[26.16,93.93],[26.29,93.66],[26.42,93],[26.55,92.68],[26.66,93.2],[26.79,94.12],[26.92,94.73],[27.05,93.97],[27.18,93.32],[27.3,93.44],[27.44,93.68],[27.55,93.96],[27.68,94.15],[27.8,94.27],[27.92,94.19],[28.07,94.27],[28.18,94.46],[28.42,94.89],[28.56,94.51],[28.69,94.24],[28.82,94.41],[28.94,94.89],[29.05,94.99],[29.18,94.68],[29.3,94.56],[29.44,94.48],[29.68,94.15],[29.95,94.19],[30.07,94.39],[30.19,94.33],[30.32,94.44],[30.45,94.6],[30.68,94.51],[30.82,94.56],[31.06,94.27],[31.21,93.83],[31.31,93.68],[31.45,92.96],[31.58,92.84],[31.69,92.91],[31.94,93.91],[32.08,94.02],[32.2,94.33],[32.32,94.41],[32.57,93.91],[32.8,93.97],[32.97,93.82],[33.09,93.78],[33.21,93.82],[33.58,93.64],[33.7,93.68],[33.84,93.64],[33.97,93.71],[34.45,94.31],[34.6,94.19]];

/* ---------- axis functions ---------- */
const NS="http://www.w3.org/2000/svg";
const xKm=km=>609+(km-15)*88.4;
const yAltA=a=>740-(a-1000)*0.094;
const yAltB=a=>1620-(a-1000)*0.0943;
const yDbz=v=>280-v*13.17;
const yDop=v=>1334-v*66;
const yVel=v=>2279-v*220;
const yVar=v=>2498-v*659;
const yLwc=v=>3377-v*522;
const yTemp=v=>3529-(v+10)*211.2;
const yRh=v=>4057-(v-90)*66;
const xTime=s=>300+s*11.339;

const axes=document.getElementById('axes');
const seriesG=document.getElementById('series');

function drawLine(parent,x1,y1,x2,y2,w,color,name){
  const el=document.createElementNS(NS,'line');
  el.setAttribute('x1',x1);el.setAttribute('y1',y1);el.setAttribute('x2',x2);el.setAttribute('y2',y2);
  el.setAttribute('stroke',color);el.setAttribute('stroke-width',w);
  
  
  parent.appendChild(el);
  return el;
}
function drawText(str,x,y,anchor,name,size){
  const el=document.createElementNS(NS,'text');
  el.textContent=str;
  el.setAttribute('x',x);el.setAttribute('y',y);el.setAttribute('text-anchor',anchor);
  if(size)el.style.fontSize=size+'px';
  
  
  axes.appendChild(el);
  return el;
}
function drawPoly(parent,points,fill,stroke,w,name){
  const el=document.createElementNS(NS,'polyline');
  el.setAttribute('points',points.map(p=>p[0].toFixed(1)+','+p[1].toFixed(1)).join(' '));
  el.setAttribute('fill',fill);el.setAttribute('stroke',stroke);el.setAttribute('stroke-width',w);
  el.setAttribute('stroke-linejoin','round');
  
  
  parent.appendChild(el);
  return el;
}
const fmt=v=>{const s=Math.abs(v).toFixed(1);return (v<0?'\u2212':'')+s;};

/* x axes */
function xAxis(base,major,minor,panel,labels,labelY){
  drawLine(axes,298,base,2341,base,5,'#000',panel+'-x-axis-line');
  distanceMajorTicks.forEach(k=>drawLine(axes,xKm(k),base,xKm(k),base+major,4.5,'#000',panel+'-x-major-tick'));
  distanceMinorTicks.forEach(k=>drawLine(axes,xKm(k),base,xKm(k),base+minor,4.5,'#000',panel+'-x-minor-tick'));
  if(labels)distanceMajorTicks.forEach(k=>drawText(String(k),xKm(k)-3,labelY,'middle',panel+'-x-tick-label'));
}
xAxis(740,46,23,'panel-a',true,858);
xAxis(1620,46,23,'panel-b',true,1738);
xAxis(2498,46,23,'panel-c',true,2616);
xAxis(3377,46,23,'panel-d',true,3495);
xAxis(4057,40,20,'panel-e',true,4169);

/* altitude axes */
function altitudeAxis(yFn,panel){
  drawLine(axes,300,yFn(8000)-2,300,yFn(1000)+2,5,'#000',panel+'-y-axis-line');
  for(let a=1000;a<=8000;a+=100){
    const isMajor=a%1000===0;
    drawLine(axes,300,yFn(a),isMajor?346:323,yFn(a),4.5,'#000',panel+(isMajor?'-y-major-tick':'-y-minor-tick'));
  }
  altitudeTicks.forEach(a=>drawText(String(a),259,yFn(a)+18,'end',panel+'-y-tick-label'));
}
altitudeAxis(yAltA,'panel-a');
altitudeAxis(yAltB,'panel-b');

/* colorbars */
function colorbar(gradId,stops,top,bottom,yFn,ticks,panel,vmin,vmax){
  const grad=document.getElementById(gradId);
  stops.forEach(s=>{
    const st=document.createElementNS(NS,'stop');
    st.setAttribute('offset',((vmax-s[0])/(vmax-vmin)).toFixed(4));
    st.setAttribute('stop-color',s[1]);
    grad.insertBefore(st,grad.firstChild);
  });
  const r=document.createElementNS(NS,'rect');
  r.setAttribute('x',2429);r.setAttribute('y',top);r.setAttribute('width',87);r.setAttribute('height',bottom-top);
  r.setAttribute('fill','url(#'+gradId+')');
  
  
  axes.appendChild(r);
  drawLine(axes,2429,top,2518,top,4,'#000',panel+'-colorbar-top-edge');
  drawLine(axes,2516,top,2516,bottom+2,4,'#000',panel+'-colorbar-axis');
  ticks.forEach(v=>{
    drawLine(axes,2516,yFn(v),2539,yFn(v),5,'#000',panel+'-colorbar-tick');
    drawText((v<0?'\u2212':'')+Math.abs(v),2562,yFn(v)+28,'start',panel+'-colorbar-tick-label');
  });
}
colorbar('gradA',reflectivityStops,83,739,yDbz,reflectivityTicks,'panel-a',-35,15);
colorbar('gradB',dopplerStops,1005,1663,yDop,dopplerTicks,'panel-b',-5,5);

/* panel c axes */
drawLine(axes,300,1837,300,2500,5,'#000','panel-c-left-axis-line');
for(let i=-10;i<=20;i++){
  const v=i/10,isMajor=i%5===0;
  drawLine(axes,300,yVel(v),isMajor?346:323,yVel(v),4.5,'#000',isMajor?'panel-c-left-major-tick':'panel-c-left-minor-tick');
}
velocityTicks.forEach(v=>drawText(fmt(v),v<0?276:263,yVel(v)+17.5,'end','panel-c-left-tick-label'));
drawLine(axes,2341,1837,2341,2500,5,'#000','panel-c-right-axis-line');
for(let i=0;i<=20;i++){
  const v=i/20,isMajor=i%4===0;
  drawLine(axes,2341,yVar(v),isMajor?2388:2365,yVar(v),4.5,'#000',isMajor?'panel-c-right-major-tick':'panel-c-right-minor-tick');
}
varianceTicks.forEach(v=>drawText(fmt(v),2412,yVar(v)+29,'start','panel-c-right-tick-label'));
const zeroLine=drawLine(axes,375,yVel(0),2322,yVel(0),6,'#000','panel-c-zero-reference-line');
zeroLine.setAttribute('stroke-dasharray','8 29.4');

/* panel d axes */
drawLine(axes,300,2721,300,3379,5,'#000','panel-d-y-axis-line');
for(let i=0;i<=25;i++){
  const v=i*0.05,isMajor=i%4===0;
  drawLine(axes,300,yLwc(v),isMajor?346:323,yLwc(v),4.5,'#000',isMajor?'panel-d-y-major-tick':'panel-d-y-minor-tick');
}
const lwcLabelLift=[29,25,19,12,12,18,19];
lwcTicks.forEach((v,i)=>drawText(fmt(v),263,yLwc(v)+lwcLabelLift[i],'end','panel-d-y-tick-label'));

/* panel e axes */
drawLine(axes,300,3527,300,4059,5,'#000','panel-e-left-axis-line');
for(let i=0;i<=25;i++){
  const v=-10-i/10,isMajor=i%5===0;
  drawLine(axes,300,yTemp(v),isMajor?341:320,yTemp(v),4.5,'#000',isMajor?'panel-e-left-major-tick':'panel-e-left-minor-tick');
}
temperatureTicks.forEach(v=>drawText(fmt(v),279,yTemp(v)+29,'end','panel-e-left-tick-label'));
drawLine(axes,2341,3527,2341,4059,5,'#000','panel-e-right-axis-line');
for(let i=0;i<=16;i++){
  const v=90+i/2,isMajor=i%4===0;
  drawLine(axes,2341,yRh(v),isMajor?2381:2361,yRh(v),4.5,'#000',isMajor?'panel-e-right-major-tick':'panel-e-right-minor-tick');
}
humidityTicks.forEach(v=>drawText(String(v),2405,yRh(v)+29,'start','panel-e-right-tick-label'));

/* time axis */
drawLine(axes,300,4297,2343,4297,5,'#000','time-axis-line');
timeMajorSeconds.forEach((s,i)=>{
  drawLine(axes,xTime(s),4297,xTime(s),4255,4.5,'#000','time-major-tick');
  drawText(timeLabels[i],xTime(s)-10,4360,'middle','time-tick-label',54);
});
timeMinorSeconds.forEach(s=>drawLine(axes,xTime(s),4297,xTime(s),4276,4.5,'#000','time-minor-tick'));

/* line series */
function drawSeries(data,yFn,color,w,name,dash){
  const el=drawPoly(seriesG,data.map(d=>[xKm(d[0]),yFn(d[1])]),'none',color,w,name);
  if(dash)el.setAttribute('stroke-dasharray',dash);
  return el;
}
drawSeries(wPrimeSquaredSeries,yVar,'#3953a4',5,'series-w-prime-squared');
drawSeries(wSeries,yVel,'#ed1c24',9,'series-w');
drawSeries(wPrimeSeries,yVel,'#ed1c24',5,'series-w-prime');
drawSeries(cwcSeries,yLwc,'#0f8040',5,'series-cwc');
drawSeries(dwcSeries,yLwc,'#b9529f',5,'series-dwc');
drawSeries(lwcSeries,yLwc,'#000',9,'series-lwc-total');
drawSeries(temperatureSeries,yTemp,'#000',5,'series-temperature');
drawSeries(dewPointSeries,yTemp,'#000',5,'series-dew-point','42 14');
drawSeries(humiditySeries,yRh,'#3953a4',5,'series-relative-humidity');

/* radar overlays */
function smoothClosed(pts){
  let d='M'+pts[0][0].toFixed(1)+' '+pts[0][1].toFixed(1);
  const n=pts.length;
  for(let i=0;i<n;i++){
    const p0=pts[(i-1+n)%n],p1=pts[i],p2=pts[(i+1)%n],p3=pts[(i+2)%n];
    d+=' C'+(p1[0]+(p2[0]-p0[0])/6).toFixed(1)+' '+(p1[1]+(p2[1]-p0[1])/6).toFixed(1)+' '+(p2[0]-(p3[0]-p1[0])/6).toFixed(1)+' '+(p2[1]-(p3[1]-p1[1])/6).toFixed(1)+' '+p2[0].toFixed(1)+' '+p2[1].toFixed(1);
  }
  return d+'Z';
}
function stepEdge(kms,alts,yFn){
  const out=[];
  alts.forEach((a,i)=>{out.push([xKm(kms[i]),yFn(a)]);out.push([xKm(kms[i+1]),yFn(a)]);});
  return out;
}
function overlays(parent,yFn,panel,terrainEdge,edgeWidth){
  cloudHoles.forEach(h=>{
    drawPoly(parent,h.map(p=>[xKm(p[0]),yFn(p[1])]),'#fff','none',0,panel+'-cloud-gap');
  });
  const up=stepEdge(gapUpperKm,gapUpperAltitude,yFn),lo=stepEdge(gapLowerKm,gapLowerAltitude,yFn).reverse();
  drawPoly(parent,up.concat(lo),'#fff','none',0,panel+'-flight-level-gap');
  const edge=terrainProfile.map(p=>[xKm(p[0]),yFn(p[1])]);
  drawPoly(parent,edge,'none',terrainEdge,edgeWidth,panel+'-terrain-edge');
  const poly=edge.concat([[xKm(34.6),yFn(1000)],[xKm(11.5),yFn(1000)]]);
  drawPoly(parent,poly,'#020505','none',0,panel+'-terrain');
  const contour=document.createElementNS(NS,'path');
  contour.setAttribute('d',smoothClosed(billowContour.map(p=>[xKm(p[0]),yFn(p[1])])));
  contour.setAttribute('fill','none');contour.setAttribute('stroke','#000');contour.setAttribute('stroke-width',6.5);
  
  
  parent.appendChild(contour);
  const fl=drawPoly(parent,flightLevel.map(p=>[xKm(p[0]),yFn(p[1])]),'none','#000',5.5,panel+'-flight-level-dashed-line');
  fl.setAttribute('stroke-dasharray','37 37.6');
}
overlays(document.getElementById('underA'),yAltA,'panel-a','#b0242a',6);
overlays(document.getElementById('underB'),yAltB,'panel-b','#ffffff',3);

/* CFAD annotation */
const underA=document.getElementById('underA');
cfadBounds.forEach((k,i)=>{
  const el=drawLine(underA,xKm(k),162,xKm(k),729,7,'#ed1c24',i?'cfad-right-bound':'cfad-left-bound');
  el.setAttribute('stroke-dasharray','59 21');
  el.setAttribute('stroke-dashoffset','26');
  el.setAttribute('stroke-linecap','round');
});
const arrowLeft=xKm(cfadBounds[0]),arrowRight=xKm(cfadBounds[1]);
const arrowBody=drawLine(underA,arrowLeft+45,238,arrowRight-46,238,7,'#ed1c24','cfad-arrow-shaft');
arrowBody.setAttribute('stroke-dasharray','48 22 61 22 61 22 61 22 61');
arrowBody.setAttribute('stroke-linecap','round');
drawPoly(underA,[[arrowLeft+3,238],[arrowLeft+52,217],[arrowLeft+40,238],[arrowLeft+52,259],[arrowLeft+3,238]],'#ed1c24','none',0,'cfad-arrowhead-left');
drawPoly(underA,[[arrowRight-3,238],[arrowRight-52,217],[arrowRight-40,238],[arrowRight-52,259],[arrowRight-3,238]],'#ed1c24','none',0,'cfad-arrowhead-right');

/* heatmaps */
function hexRgb(h){return [parseInt(h.slice(1,3),16),parseInt(h.slice(3,5),16),parseInt(h.slice(5,7),16)];}
function makeLut(stops){
  const vmin=stops[0][0],vmax=stops[stops.length-1][0],N=1024,lut=new Uint8Array(N*3);
  let j=0;
  for(let i=0;i<N;i++){
    const v=vmin+(vmax-vmin)*i/(N-1);
    while(j<stops.length-2&&v>stops[j+1][0])j++;
    const a=hexRgb(stops[j][1]),b=hexRgb(stops[j+1][1]),t=Math.min(1,Math.max(0,(v-stops[j][0])/(stops[j+1][0]-stops[j][0])));
    for(let c=0;c<3;c++)lut[i*3+c]=a[c]+(b[c]-a[c])*t;
  }
  return {lut,vmin,vmax,N};
}
function profileAt(profile,km){
  if(km<=profile[0][0])return profile[0][1];
  for(let i=1;i<profile.length;i++){
    if(km<=profile[i][0]){
      const a=profile[i-1],b=profile[i];
      return a[1]+(b[1]-a[1])*(km-a[0])/(b[0]-a[0]);
    }
  }
  return profile[profile.length-1][1];
}
function paintHeat(id,rows,stops,features,yOrigin,yScale,canvasTop){
  const cv=document.getElementById(id),ctx=cv.getContext('2d');
  const W=cv.width,H=cv.height,img=ctx.createImageData(W,H),d=img.data;
  const cm=makeLut(stops);
  const tops=new Float32Array(W);
  for(let x=0;x<W;x++){
    const snapped=x-x%7;
    tops[x]=Math.round(profileAt(cloudTop,15+(snapped+300-609)/88.4)/60)*60;
  }
  const nc=gridKm.length,nr=gridAltitude.length;
  for(let y=0;y<H;y++){
    const alt=1000+(yOrigin-(y+canvasTop))/yScale;
    let rf=(6250-alt)/250;rf=Math.max(0,Math.min(nr-1.0001,rf));
    const r0=Math.floor(rf),rt=rf-r0;
    for(let x=0;x<W;x++){
      if(alt>tops[x])continue;
      const km=15+(x+300-609)/88.4;
      let cf=(km-11.5);cf=Math.max(0,Math.min(nc-1.0001,cf));
      const c0=Math.floor(cf),ct=cf-c0;
      let v=(rows[r0][c0]*(1-ct)+rows[r0][c0+1]*ct)*(1-rt)+(rows[r0+1][c0]*(1-ct)+rows[r0+1][c0+1]*ct)*rt;
      for(let f=0;f<features.length;f++){
        const F=features[f],dx=(km-F[0])/F[2],dy=(alt-F[1])/F[3],q=dx*dx+dy*dy;
        if(q<6){const w=Math.exp(-q);v=v*(1-w)+F[4]*w;}
      }
      const idx=Math.max(0,Math.min(cm.N-1,Math.round((v-cm.vmin)/(cm.vmax-cm.vmin)*(cm.N-1))));
      const p=(y*W+x)*4;
      d[p]=cm.lut[idx*3];d[p+1]=cm.lut[idx*3+1];d[p+2]=cm.lut[idx*3+2];d[p+3]=255;
    }
  }
  ctx.putImageData(img,0,0);
}
paintHeat('heatA',reflectivityRows,reflectivityStops,reflectivityFeatures,740,0.094,82);
paintHeat('heatB',dopplerRows,dopplerStops,dopplerFeatures,1620,0.0943,960);
</script>
</body>
</html>
